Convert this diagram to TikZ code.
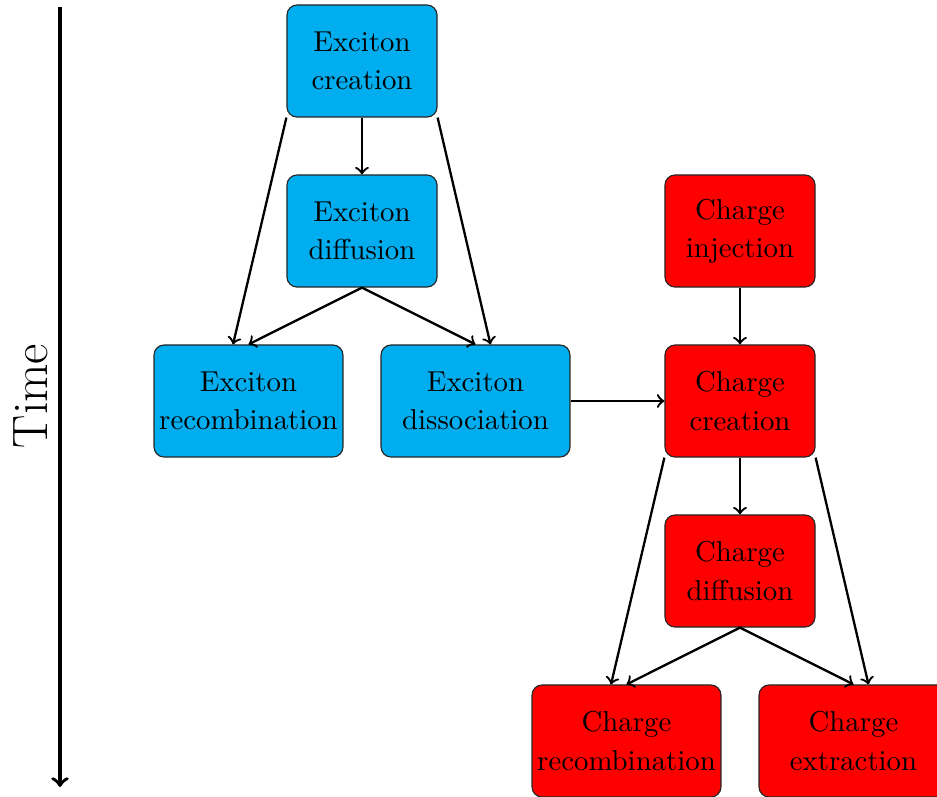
\documentclass[tikz,border=0pt]{standalone}
\usetikzlibrary{calc}
\definecolor{exfill}{RGB}{0,174,239}
\definecolor{chfill}{RGB}{255,0,0}
\tikzset{
  procbox/.style={draw=black!85, rounded corners=3.5pt, align=center, inner sep=1pt,
    minimum width=52.1pt, minimum height=38.9pt,
    font={\normalsize\setlength{\baselineskip}{13.3pt}}},
  widebox/.style={procbox, minimum width=65.6pt},
  exbox/.style={fill=exfill},
  chbox/.style={fill=chfill},
  flow/.style={->, thick, black},
}
\begin{document}
\begin{tikzpicture}[x=0.3472pt, y=-0.3472pt]
\useasboundingbox (0,0) rectangle (937,796);
\begin{scope}
\clip (0,0) rectangle (937,796);
% Time axis
\coordinate (t0) at (60,7);
\coordinate (t1) at (60,787);
\draw[->, very thick] (t0) -- (t1);
\node[rotate=90, font=\LARGE] (time) at (31,396) {Time};

% Exciton boxes
\node[procbox, exbox] (ec) at (362,61) {Exciton\\creation};
\node[procbox, exbox] (ed) at (362,231) {Exciton\\diffusion};
\node[widebox, exbox] (er) at (248.5,401) {Exciton\\recombination};
\node[widebox, exbox] (es) at (475.5,401) {Exciton\\dissociation};

% Charge boxes
\node[procbox, chbox] (ci) at (740,231) {Charge\\injection};
\node[procbox, chbox] (cc) at (740,401) {Charge\\creation};
\node[procbox, chbox] (cd) at (740,571) {Charge\\diffusion};
\node[widebox, chbox] (cr) at (626.5,741) {Charge\\recombination};
\node[widebox, chbox] (cx) at (853.5,741) {Charge\\extraction};

% Exciton flow
\draw[flow] (ec.south) -- (ed.north);
\draw[flow] (ec.south west) -- ($(er.north)+(-15.5,0)$);
\draw[flow] (ec.south east) -- ($(es.north)+(15,0)$);
\draw[flow] (ed.south) -- (er.north);
\draw[flow] (ed.south) -- (es.north);
\draw[flow] (es.east) -- (cc.west);

% Charge flow
\draw[flow] (ci.south) -- (cc.north);
\draw[flow] (cc.south) -- (cd.north);
\draw[flow] (cc.south west) -- ($(cr.north)+(-15.5,0)$);
\draw[flow] (cc.south east) -- ($(cx.north)+(15,0)$);
\draw[flow] (cd.south) -- (cr.north);
\draw[flow] (cd.south) -- (cx.north);
\end{scope}
\end{tikzpicture}
\end{document}
